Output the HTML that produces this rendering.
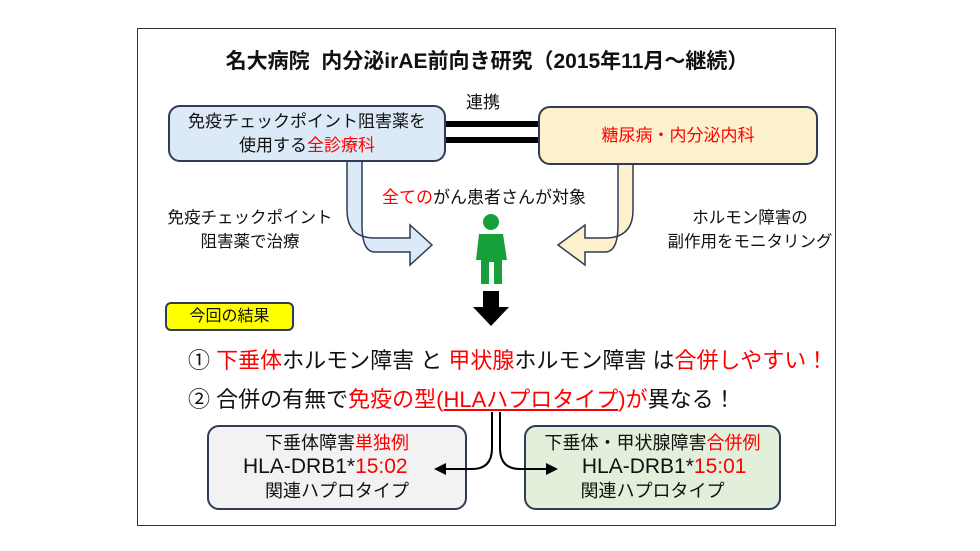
<!DOCTYPE html>
<html><head><meta charset="utf-8"><style>
body{margin:0;width:980px;height:551px;background:#fff;position:relative;overflow:hidden;font-family:"Liberation Sans","Noto Sans CJK JP",sans-serif;color:#111}
.a{position:absolute}
.r{color:#f00}
.box{position:absolute;border:2px solid #2f3b57;border-radius:12px;box-sizing:border-box;text-align:center;font-size:17px;line-height:24px}
</style></head><body>
<div class="a" style="left:137px;top:28px;width:697px;height:496px;border:1.5px solid #333"></div>
<div class="a" style="left:137px;top:45px;width:700px;text-align:center;font-size:21px;font-weight:bold">名大病院&nbsp; 内分泌irAE前向き研究（2015年11月～継続）</div>
<svg class="a" style="left:0;top:0" width="980" height="551">
<rect x="445" y="121" width="94" height="6" fill="#000"/>
<rect x="445" y="137" width="94" height="6" fill="#000"/>
<path d="M347 160 V210 Q347 238 375 238 H410 V225 L432 245 L410 265 V252 H375 Q362 252 362 225 V160 Z" fill="#dce9f6" stroke="#2f3b57" stroke-width="1.5"/>
<path d="M633 160 V210 Q633 238 605 238 H585 V225 L558 245 L585 265 V252 H605 Q618 252 618 225 V160 Z" fill="#fdf0cc" stroke="#2f3b57" stroke-width="1.5"/>
<circle cx="491" cy="222" r="8" fill="#17a03a"/>
<path d="M479 234 H503 L507 260 H502 V284 H494 V262 H489 V284 H481 V260 H476 Z" fill="#17a03a"/>
<path d="M483 291 H499 V307 H509 L491 326 L473 307 H483 Z" fill="#000"/>
</svg>
<div class="box" style="left:168px;top:105px;width:278px;height:57px;background:#dce9f6;padding-top:3px">免疫チェックポイント阻害薬を<br>使用する<span class="r">全診療科</span></div>
<div class="box" style="left:538px;top:106px;width:280px;height:59px;background:#fdf0cc;line-height:55px"><span class="r">糖尿病・内分泌内科</span></div>
<div class="a" style="left:466px;top:88px;font-size:17px">連携</div>
<div class="a" style="left:382px;top:183px;font-size:17px"><span class="r">全ての</span>がん患者さんが対象</div>
<div class="a" style="left:160px;top:206px;width:180px;text-align:center;font-size:16.5px;line-height:24px">免疫チェックポイント<br>阻害薬で治療</div>
<div class="a" style="left:655px;top:206px;width:190px;text-align:center;font-size:16.5px;line-height:24px">ホルモン障害の<br>副作用をモニタリング</div>
<div class="box" style="left:165px;top:302px;width:129px;height:29px;background:#ffff00;border-radius:6px;font-size:16px;line-height:25px">今回の結果</div>
<div class="a" style="left:188px;top:343px;font-size:22px">① <span class="r">下垂体</span>ホルモン障害 と <span class="r">甲状腺</span>ホルモン障害 は<span class="r">合併しやすい！</span></div>
<div class="a" style="left:188px;top:382px;font-size:22px">② 合併の有無で<span class="r">免疫の型(<u>HLAハプロタイプ</u>)が</span>異なる！</div>
<div class="box" style="left:207px;top:425px;width:260px;height:85px;background:#f2f2f2;font-size:18px;padding-top:4px;line-height:24px">下垂体障害<span class="r">単独例</span><br><span style="font-size:21px">HLA-DRB1*<span class="r">15:02</span>&nbsp;&nbsp;&nbsp;&nbsp;</span><br>関連ハプロタイプ</div>
<div class="box" style="left:524px;top:425px;width:257px;height:85px;background:#e2efda;font-size:18px;padding-top:4px;line-height:24px">下垂体・甲状腺障害<span class="r">合併例</span><br><span style="font-size:21px">&nbsp;&nbsp;&nbsp;&nbsp;HLA-DRB1*<span class="r">15:01</span></span><br>関連ハプロタイプ</div>
<svg class="a" style="left:0;top:0" width="980" height="551">
<path d="M492 412 V448 Q492 469 472 469 H444" fill="none" stroke="#000" stroke-width="2"/>
<path d="M446 463 L434 469 L446 475 Z" fill="#000"/>
<path d="M500 412 V448 Q500 469 520 469 H548" fill="none" stroke="#000" stroke-width="2"/>
<path d="M546 463 L558 469 L546 475 Z" fill="#000"/>
</svg>
</body></html>
